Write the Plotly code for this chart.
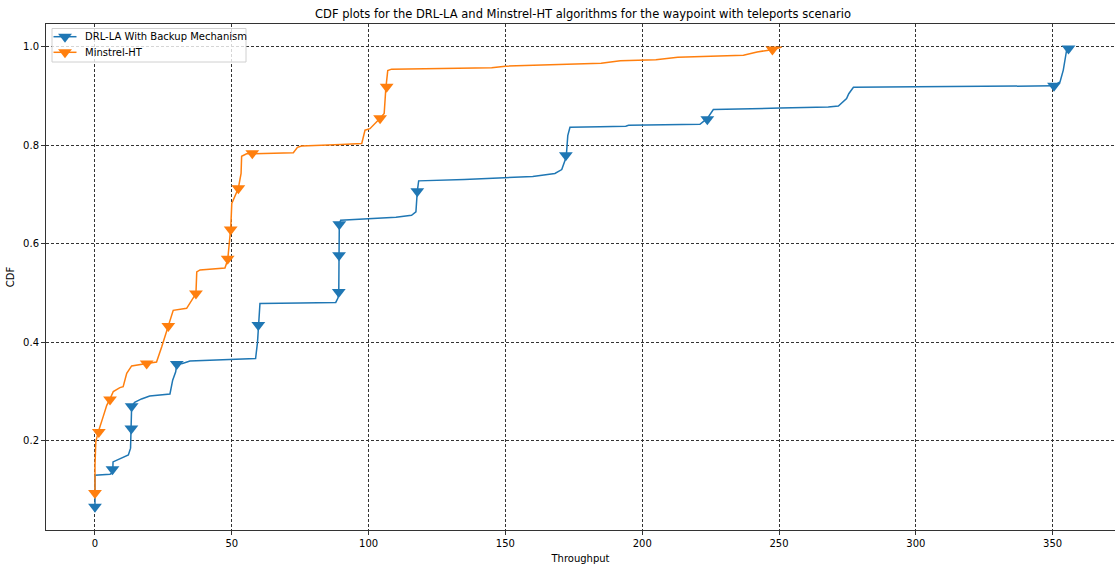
import plotly.graph_objects as go

# Empirical CDF of throughput, DRL-LA with backup mechanism
drl_x = [0, 0, 5.5, 6.5, 6.6, 9, 12.2, 13.0, 13.3, 13.4, 14.5, 17, 20, 27.4, 28.4, 29.5,
         29.9, 32, 34.7, 43, 50, 58.7, 59.4, 59.7, 60.3, 75, 88, 88.8, 89.1, 89.2, 89.3,
         89.8, 100, 110, 115.7, 117.3, 117.8, 118.3, 135, 150.4, 160, 168.1, 170.6, 172.0,
         172.3, 172.8, 173.6, 184.6, 194, 195, 210, 221.1, 223.8, 226, 250.4, 268, 271.7,
         274.7, 275.5, 277.2, 300, 350.3, 352.7, 353.9, 355.1, 356]
drl_cdf = [0.066, 0.130, 0.132, 0.135, 0.157, 0.163, 0.171, 0.185, 0.225, 0.270, 0.278,
           0.285, 0.291, 0.295, 0.323, 0.340, 0.356, 0.357, 0.362, 0.364, 0.366, 0.367,
           0.400, 0.435, 0.479, 0.480, 0.481, 0.490, 0.500, 0.575, 0.640, 0.648, 0.651,
           0.654, 0.658, 0.665, 0.707, 0.728, 0.731, 0.734, 0.737, 0.743, 0.751, 0.773,
           0.782, 0.820, 0.837, 0.838, 0.839, 0.841, 0.842, 0.843, 0.855, 0.873, 0.876,
           0.878, 0.880, 0.895, 0.905, 0.918, 0.919, 0.921, 0.929, 0.953, 0.993, 1.0]
drl_mark_x = [0, 6.4, 13.3, 13.4, 29.9, 59.7, 89.1, 89.2, 89.3, 117.8, 172.1, 223.8, 350.5, 355.8]
drl_mark_cdf = [0.066, 0.142, 0.225, 0.270, 0.356, 0.435, 0.502, 0.577, 0.640, 0.707, 0.780,
                0.853, 0.921, 0.997]

# Empirical CDF of throughput, Minstrel-HT
mht_x = [0, 0, 0.3, 1.2, 3.0, 4.3, 5.5, 6.7, 9.1, 10.3, 11.6, 13.4, 18.9, 22.5, 24.4, 26.0,
         26.8, 28.6, 33.5, 34.7, 36.9, 37.2, 38.4, 47.5, 48.5, 49.3, 49.6, 50.0, 51.2, 52.4,
         53.4, 53.6, 55.4, 65, 72.5, 74.0, 75.5, 90, 97.5, 98.7, 100.5, 104.2, 105.7, 106.3,
         107.0, 108.4, 130, 145, 150, 165, 185, 192, 205, 213, 237, 242, 248, 251]
mht_cdf = [0.094, 0.150, 0.198, 0.218, 0.249, 0.272, 0.285, 0.300, 0.308, 0.310, 0.337,
           0.352, 0.357, 0.360, 0.391, 0.421, 0.433, 0.465, 0.469, 0.479, 0.499, 0.543,
           0.547, 0.551, 0.567, 0.614, 0.629, 0.682, 0.699, 0.713, 0.743, 0.778, 0.783,
           0.784, 0.785, 0.796, 0.799, 0.802, 0.804, 0.831, 0.834, 0.855, 0.865, 0.916,
           0.952, 0.955, 0.956, 0.958, 0.961, 0.963, 0.967, 0.972, 0.974, 0.979, 0.983,
           0.990, 0.995, 1.0]
mht_mark_x = [0, 1.4, 5.5, 18.9, 26.8, 36.9, 48.5, 49.6, 52.4, 57.5, 104.2, 106.6, 247.6]
mht_mark_cdf = [0.094, 0.218, 0.284, 0.357, 0.433, 0.499, 0.570, 0.629, 0.713, 0.784, 0.855,
                0.919, 0.995]

series_names = ["DRL-LA With Backup Mechanism", "Minstrel-HT"]
x_ticks = [0, 50, 100, 150, 200, 250, 300, 350]
y_ticks = [0.2, 0.4, 0.6, 0.8, 1.0]
x_range = [-17.9, 372.8]
y_range = [0.0187, 1.0467]

BLUE = "#1f77b4"
ORANGE = "#ff7f0e"
FONT = "DejaVu Sans"
MSIZE = 12

# plot area geometry in pixels
W, H = 1115, 564
L, T, B = 46, 24, 34
PW, PH = W - L, H - T - B


def px_to_x(px):
    return x_range[0] + (px - L) / PW * (x_range[1] - x_range[0])


def py_to_y(py):
    return y_range[1] - (py - T) / PH * (y_range[1] - y_range[0])


fig = go.Figure()

series = [
    (series_names[0], drl_x, drl_cdf, drl_mark_x, drl_mark_cdf, BLUE),
    (series_names[1], mht_x, mht_cdf, mht_mark_x, mht_mark_cdf, ORANGE),
]

for name, xs, ys, mx, my, color in series:
    fig.add_trace(go.Scatter(x=xs, y=ys, mode="lines", line=dict(color=color, width=1.5),
                             name=name, showlegend=False, hoverinfo="skip"))
    fig.add_trace(go.Scatter(x=mx, y=my, mode="markers",
                             marker=dict(symbol="triangle-down", size=MSIZE, color=color),
                             name=name, showlegend=False))

# Legend box: sits above the grid, below the traces
fig.add_shape(type="rect", xref="x", yref="y",
              x0=px_to_x(52), y0=py_to_y(28.5), x1=px_to_x(246), y1=py_to_y(62),
              line=dict(color="#d0d0d0", width=1), fillcolor="rgba(255,255,255,0.8)",
              layer="between")
row_py = [36.7, 52.3]
for (name, *_rest, color), ry in zip(series, row_py):
    yy = py_to_y(ry)
    fig.add_trace(go.Scatter(x=[px_to_x(53.5), px_to_x(76.5)], y=[yy, yy], mode="lines",
                             line=dict(color=color, width=1.5),
                             showlegend=False, hoverinfo="skip", cliponaxis=False))
    fig.add_trace(go.Scatter(x=[px_to_x(65)], y=[yy], mode="markers",
                             marker=dict(symbol="triangle-down", size=MSIZE, color=color),
                             showlegend=False, hoverinfo="skip"))
    fig.add_annotation(x=px_to_x(83), y=yy, xref="x", yref="y", text=name, showarrow=False,
                       xanchor="left", yanchor="middle",
                       font=dict(family=FONT, size=10, color="black"))

grid = dict(showgrid=True, gridcolor="#333333", gridwidth=0.8, griddash="3px,2px")

fig.update_layout(
    width=W, height=H,
    margin=dict(l=L, r=0, t=T, b=B),
    paper_bgcolor="white", plot_bgcolor="white",
    showlegend=False,
    font=dict(family=FONT, size=10, color="black"),
    title=dict(text="CDF plots for the DRL-LA and Minstrel-HT algorithms for the waypoint with teleports scenario",
               x=(583 / W), xanchor="center", y=1 - 14 / H, yanchor="middle",
               font=dict(family=FONT, size=11.5, color="black")),
    xaxis=dict(range=x_range, tickvals=x_ticks, ticks="outside", ticklen=4,
               tickcolor="#333", showline=True, linecolor="#333", linewidth=1, mirror=True,
               zeroline=False, title=dict(text="Throughput", standoff=6,
                                          font=dict(family=FONT, size=10)),
               tickfont=dict(family=FONT, size=10), **grid),
    yaxis=dict(range=y_range, tickvals=y_ticks, tickformat=".1f", ticks="outside",
               ticklen=4, tickcolor="#333", showline=True, linecolor="#333", linewidth=1,
               mirror=False, zeroline=False,
               title=dict(text="CDF", standoff=6, font=dict(family=FONT, size=10)),
               tickfont=dict(family=FONT, size=10), **grid),
)

fig.write_html("out.html")
